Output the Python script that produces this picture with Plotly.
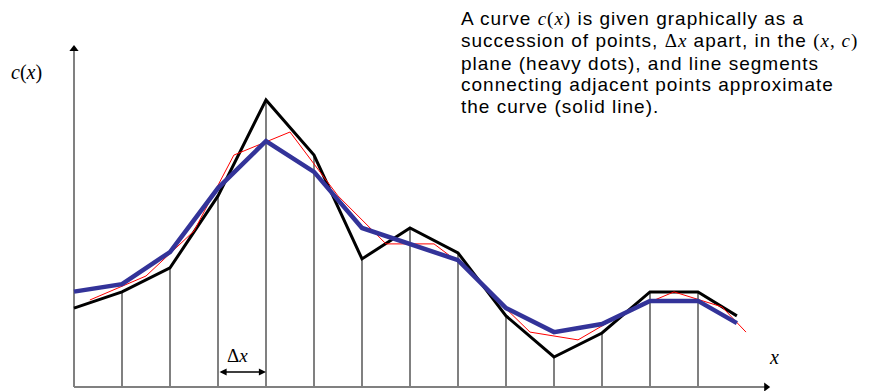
import plotly.graph_objects as go

# Sample positions in units of the spacing dx (x = 0 is the c-axis)
x_grid = [0, 1, 2, 3, 4, 5, 6, 7, 8, 9, 10, 11, 12, 13, 13.81]

# Exact curve c(x), heavy black polyline
c_true = [2.63, 3.17, 3.97, 6.37, 9.57, 7.73, 4.27, 5.30, 4.47, 2.37, 1.00, 1.80, 3.17, 3.17, 2.37]

# Piecewise-linear approximation through the sampled points (blue)
c_approx = [3.18, 3.43, 4.50, 6.63, 8.20, 7.17, 5.30, 4.77, 4.23, 2.63, 1.83, 2.10, 2.87, 2.87, 2.13]

# Thin red reconstruction
x_red = [0.33, 1.5, 2.5, 3.33, 4.5, 5.5, 6.5, 7.5, 8.0, 9.5, 10.5, 11.5, 12.5, 13.5, 14.0]
c_red = [2.90, 3.70, 5.20, 7.73, 8.50, 6.37, 4.77, 4.77, 4.17, 1.83, 1.57, 2.50, 3.17, 2.67, 1.83]

# Axis extents (arrow tips)
x_axis_end = 14.5
c_axis_end = 11.4

GRAY = "#808080"
SERIF = "Liberation Serif, Times New Roman, serif"
SANS = "Liberation Sans, Arial, sans-serif"

fig = go.Figure()

# Vertical ordinates from the x-axis up to the curve at each grid point
vx, vy = [], []
for xi, ci in zip(x_grid[1:-1], c_true[1:-1]):
    vx += [xi, xi, None]
    vy += [0, ci, None]
fig.add_trace(go.Scatter(x=vx, y=vy, mode="lines",
                         line=dict(color=GRAY, width=2), hoverinfo="skip"))

# Coordinate axes
fig.add_trace(go.Scatter(x=[0, x_axis_end - 0.1], y=[0, 0], mode="lines",
                         line=dict(color=GRAY, width=2), hoverinfo="skip"))
fig.add_trace(go.Scatter(x=[0, 0], y=[0, c_axis_end - 0.2], mode="lines",
                         line=dict(color=GRAY, width=2), hoverinfo="skip"))
fig.add_trace(go.Scatter(x=[x_axis_end - 0.08], y=[0], mode="markers",
                         marker=dict(symbol="triangle-right", size=8, color="black"),
                         hoverinfo="skip"))
fig.add_trace(go.Scatter(x=[0], y=[c_axis_end - 0.13], mode="markers",
                         marker=dict(symbol="triangle-up", size=8, color="black"),
                         hoverinfo="skip"))

# Curves
fig.add_trace(go.Scatter(x=x_grid, y=c_true, mode="lines",
                         line=dict(color="black", width=3), hoverinfo="skip"))
fig.add_trace(go.Scatter(x=x_red, y=c_red, mode="lines",
                         line=dict(color="#ff0000", width=1), hoverinfo="skip"))
fig.add_trace(go.Scatter(x=x_grid, y=c_approx, mode="lines",
                         line=dict(color="#333399", width=4.5), hoverinfo="skip"))

# Double-headed dx marker between two adjacent ordinates
fig.add_annotation(x=4, y=0.5, ax=3, ay=0.5, xref="x", yref="y", axref="x", ayref="y",
                   text="", showarrow=True, arrowhead=2, startarrowhead=2,
                   arrowside="end+start", arrowsize=1.1, startarrowsize=1.1,
                   arrowwidth=1.3, arrowcolor="black", standoff=0, startstandoff=0)
fig.add_annotation(x=3.4, y=1.05, xref="x", yref="y", showarrow=False,
                   text="Δ<i>x</i>", font=dict(family=SERIF, size=19, color="black"))

# Axis labels
fig.add_annotation(x=9 / 869, y=1 - 72 / 391, xref="paper", yref="paper",
                   xanchor="left", yanchor="middle", showarrow=False,
                   text="<i>c</i>(<i>x</i>)", font=dict(family=SERIF, size=20, color="black"))
fig.add_annotation(x=774 / 869, y=1 - 357 / 391, xref="paper", yref="paper",
                   xanchor="center", yanchor="middle", showarrow=False,
                   text="<i>x</i>", font=dict(family=SERIF, size=20, color="black"))

# Explanatory caption
def serif(s):
    return f"<span style='font-family:{SERIF}'>{s}</span>"

caption = [
    f"A curve {serif('<i>c</i>(<i>x</i>)')} is given graphically as a",
    f"succession of points, {serif('Δ<i>x</i>')} apart, in the {serif('(<i>x</i>, <i>c</i>)')}",
    "plane (heavy dots), and line segments",
    "connecting adjacent points approximate",
    "the curve (solid line).",
]
for i, line in enumerate(caption):
    fig.add_annotation(x=459 / 869, y=1 - (19 + 22 * i) / 391, xref="paper", yref="paper",
                       xanchor="left", yanchor="middle", showarrow=False,
                       text=f"<span style='letter-spacing:1px'>{line}</span>",
                       font=dict(family=SANS, size=19, color="black"))

fig.update_layout(
    width=869, height=391,
    margin=dict(l=0, r=0, t=0, b=0),
    paper_bgcolor="white", plot_bgcolor="white",
    showlegend=False,
    xaxis=dict(range=[-74 / 48, 795 / 48], visible=False, fixedrange=True),
    yaxis=dict(range=[-4 / 30, 387 / 30], visible=False, fixedrange=True),
)

fig.write_html("out.html")
